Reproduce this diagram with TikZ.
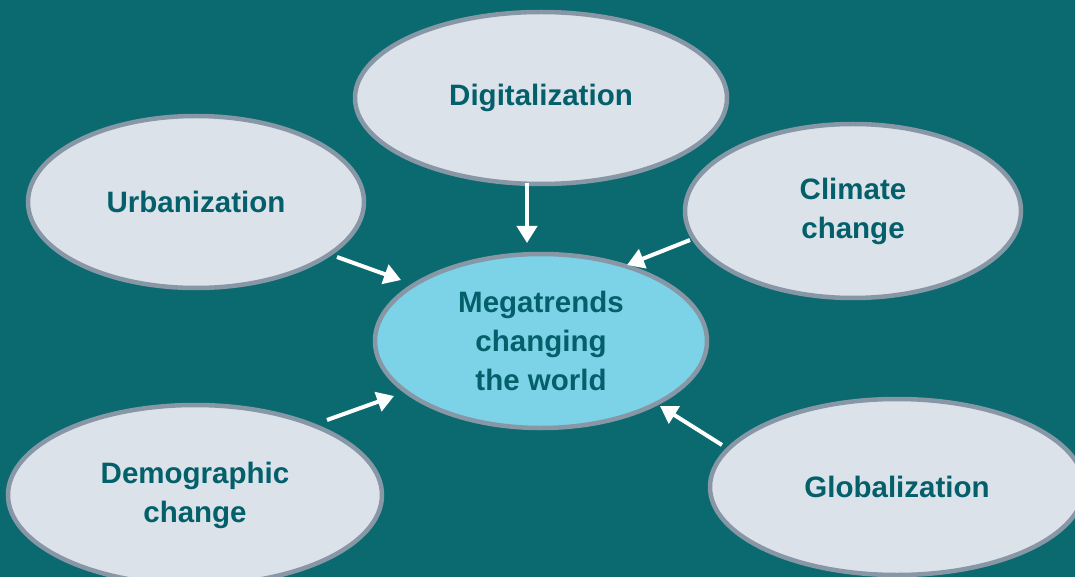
\documentclass[tikz,border=0pt]{standalone}
\usepackage{fontspec}
\setmainfont{Liberation Sans}
\usetikzlibrary{shapes.geometric,arrows.meta}
\definecolor{bgteal}{HTML}{0B6A70}
\definecolor{bubblefill}{HTML}{DBE2E9}
\definecolor{bubbleedge}{HTML}{8797A6}
\definecolor{corefill}{HTML}{7CD3E7}
\definecolor{txtteal}{HTML}{035F6A}
\tikzset{
  bubble/.style={ellipse, draw=bubbleedge, line width=4.5pt, fill=bubblefill,
    inner sep=0pt, text=txtteal, font=\fontsize{29.5}{39}\selectfont\bfseries, align=center},
  core/.style={bubble, fill=corefill},
  flow/.style={draw=white, line width=4pt, -{Triangle[length=17pt,width=20pt]}}
}
\begin{document}
\begin{tikzpicture}[x=1pt,y=-1pt]
\useasboundingbox (0,0) rectangle (1075,577);
\fill[bgteal] (0,0) rectangle (1075,577);
\begin{scope}
\clip (0,0) rectangle (1075,577);
\node[bubble, minimum width=372pt, minimum height=172pt] (dig) at (541,98) {Digitalization};
\node[bubble, minimum width=336pt, minimum height=172pt] (urb) at (196,202) {Urbanization};
\node[bubble, minimum width=336pt, minimum height=174pt] (cli) at (853,211) {Climate\\change};
\node[core, minimum width=332pt, minimum height=174pt] (meg) at (541,341) {Megatrends\\changing\\the world};
\node[bubble, minimum width=374pt, minimum height=180pt] (dem) at (195,495) {Demographic\\change};
\node[bubble, minimum width=374pt, minimum height=176pt] (glo) at (897,487) {Globalization};
\end{scope}
\coordinate (digA) at (527,183); \coordinate (digB) at (527,243);
\coordinate (urbA) at (337,257); \coordinate (urbB) at (401,280);
\coordinate (cliA) at (690,240); \coordinate (cliB) at (627,265);
\coordinate (demA) at (327,420); \coordinate (demB) at (394,396);
\coordinate (gloA) at (722,445); \coordinate (gloB) at (660,406);
\draw[flow] (digA) -- (digB);
\draw[flow] (urbA) -- (urbB);
\draw[flow] (cliA) -- (cliB);
\draw[flow] (demA) -- (demB);
\draw[flow] (gloA) -- (gloB);
\end{tikzpicture}
\end{document}
